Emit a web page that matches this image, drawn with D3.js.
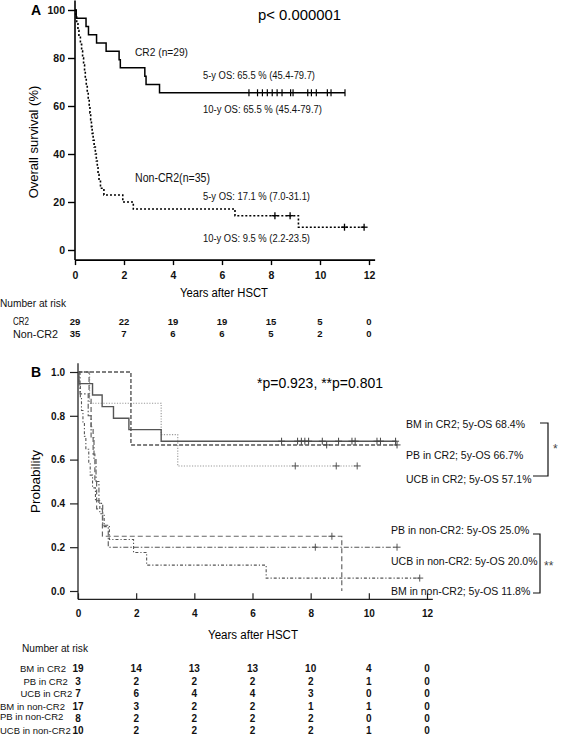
<!DOCTYPE html>
<html><head><meta charset="utf-8">
<script src="https://cdn.jsdelivr.net/npm/d3@7"></script>
<style>body{margin:0;background:#fff} svg{display:block}</style>
</head><body><svg id="c" width="567" height="737"></svg>
<script>
// ---------- Panel A data ----------
const ticksXA = [0, 2, 4, 6, 8, 10, 12];
const ticksYA = [0, 20, 40, 60, 80, 100];
const cr2Times = [0, 0.05, 0.45, 0.55, 0.88, 1.27, 1.8, 1.85, 2.85, 2.9, 3.45];
const cr2Surv  = [100, 96.6, 93.1, 89.7, 86.2, 82.8, 79.3, 75.9, 72.4, 69.0, 65.5];
const cr2End = 11.02;
const cr2Censor = [7.1, 7.45, 7.65, 7.85, 8.05, 8.25, 8.45, 8.8, 8.9, 9.5, 9.65, 9.85, 10.3, 10.45, 11.02];
const nonTimes = [0, 0.03, 0.07, 0.12, 0.16, 0.22, 0.27, 0.31, 0.35, 0.39, 0.42, 0.46, 0.5, 0.54, 0.58, 0.61, 0.64, 0.67, 0.7, 0.74, 0.78, 0.83, 0.87, 0.91, 0.94, 0.98, 1.04, 1.18, 1.95, 2.38, 6.53, 9.12];
const nonSurv  = [100, 97.1, 94.3, 91.4, 88.6, 85.7, 82.9, 80.0, 77.1, 74.3, 71.4, 68.6, 65.7, 62.9, 60.0, 57.1, 54.3, 51.4, 48.6, 45.7, 42.9, 40.0, 37.1, 34.3, 31.4, 28.6, 25.7, 22.9, 20.0, 17.1, 14.3, 9.5];
const nonEnd = 11.8;
const nonCensor = [8.16, 8.78, 11.0, 11.8];
const riskLabelsA = ["CR2", "Non-CR2"];
const riskCR2 = [29, 22, 19, 19, 15, 5, 0];
const riskNonCR2 = [35, 7, 6, 6, 5, 2, 0];

// ---------- Panel B data ----------
const ticksXB = [0, 2, 4, 6, 8, 10, 12];
const ticksYB = [0, 0.2, 0.4, 0.6, 0.8, 1.0];
const bmCR2Times = [0, 0.03, 0.5, 0.83, 1.22, 1.75, 2.86];
const bmCR2Surv  = [1, 0.947, 0.895, 0.842, 0.789, 0.737, 0.684];
const bmCR2End = 10.95;
const bmCR2Censor = [7.0, 7.55, 7.68, 7.8, 7.93, 8.4, 8.96, 9.42, 9.53, 10.28, 10.4, 10.92];
const pbCR2Times = [0, 1.82];
const pbCR2Surv  = [1, 0.667];
const pbCR2End = 10.97;
const pbCR2Censor = [8.55, 10.97];
const ucbCR2Times = [0, 0.4, 2.86, 3.43];
const ucbCR2Surv  = [1, 0.857, 0.714, 0.571];
const ucbCR2End = 9.6;
const ucbCR2Censor = [7.47, 8.88, 9.6];
const pbNonTimes = [0, 0.38, 0.45, 0.52, 0.58, 0.64, 0.84, 9.07];
const pbNonSurv  = [1, 0.875, 0.75, 0.625, 0.5, 0.375, 0.25, 0];
const pbNonEnd = 9.07;
const pbNonCensor = [8.73];
const ucbNonTimes = [0, 0.07, 0.35, 0.45, 0.55, 0.62, 0.72, 0.85, 1.04];
const ucbNonSurv  = [1, 0.9, 0.8, 0.7, 0.6, 0.5, 0.4, 0.3, 0.2];
const ucbNonEnd = 10.97;
const ucbNonCensor = [8.16, 10.97];
const bmNonTimes = [0, 0.03, 0.08, 0.12, 0.17, 0.22, 0.27, 0.37, 0.42, 0.5, 0.6, 0.75, 0.9, 1.08, 1.91, 2.36, 6.47];
const bmNonSurv  = [1, 0.941, 0.882, 0.824, 0.765, 0.706, 0.647, 0.588, 0.529, 0.471, 0.412, 0.353, 0.294, 0.235, 0.176, 0.118, 0.059];
const bmNonEnd = 11.75;
const bmNonCensor = [11.75];
const legendB = ["BM in CR2; 5y-OS 68.4%", "PB in CR2; 5y-OS 66.7%", "UCB in CR2; 5y-OS 57.1%",
                 "PB in non-CR2: 5y-OS 25.0%", "UCB in non-CR2: 5y-OS 20.0%", "BM in non-CR2; 5y-OS 11.8%"];
const riskLabelsB = ["BM in CR2", "PB in CR2", "UCB in CR2", "BM in non-CR2", "PB in non-CR2", "UCB in non-CR2"];
const riskB = [
  [19, 14, 13, 13, 10, 4, 0],
  [3, 2, 2, 2, 2, 1, 0],
  [7, 6, 4, 4, 3, 0, 0],
  [17, 3, 2, 2, 1, 1, 0],
  [8, 2, 2, 2, 2, 0, 0],
  [10, 2, 2, 2, 2, 1, 0]
];

// ---------- helpers ----------
const FONT = "'Liberation Sans', Arial, sans-serif";
const svg = d3.select('#c');
svg.append('rect').attr('width', 567).attr('height', 737).attr('fill', '#fff');

function stepAt(times, surv, t) {
  let v = surv[0];
  for (let i = 0; i < times.length; i++) if (times[i] <= t) v = surv[i];
  return v;
}
function txt(x, y, s, o = {}) {
  const t = svg.append('text').attr('x', x).attr('y', y).text(s)
    .attr('font-family', o.family || FONT).attr('font-size', o.size || 11)
    .attr('font-weight', o.weight || 'normal').attr('fill', o.fill || '#111')
    .attr('text-anchor', o.anchor || 'start');
  if (o.len) t.attr('textLength', o.len).attr('lengthAdjust', 'spacingAndGlyphs');
  return t;
}
function drawCurve(g, x, y, times, surv, end, style) {
  const pts = times.map((t, i) => [t, surv[i]]);
  pts.push([end, surv[surv.length - 1]]);
  g.append('path').datum(pts)
    .attr('d', d3.line().x(d => x(d[0])).y(d => y(d[1])).curve(d3.curveStepAfter))
    .attr('fill', 'none').attr('stroke', style.color).attr('stroke-width', style.width)
    .attr('stroke-dasharray', style.dash || null);
}
function drawCensor(g, x, y, times, surv, cens, style, h, w) {
  cens.forEach(c => {
    const cx = x(c), cy = y(stepAt(times, surv, c));
    g.append('line').attr('x1', cx).attr('x2', cx).attr('y1', cy - h).attr('y2', cy + h)
      .attr('stroke', style.color).attr('stroke-width', style.cw || 1.2);
    g.append('line').attr('x1', cx - w).attr('x2', cx + w).attr('y1', cy).attr('y2', cy)
      .attr('stroke', style.color).attr('stroke-width', style.cw || 1.2);
  });
}

// =================== PANEL A ===================
const xA = d3.scaleLinear().domain([0, 12]).range([75, 369]);
const yA = d3.scaleLinear().domain([0, 100]).range([250, 10]);
const baseA = yA(-4.2);
const gA = svg.append('g');

// axes
gA.append('line').attr('x1', xA(0)).attr('x2', xA(0)).attr('y1', yA(104)).attr('y2', baseA)
  .attr('stroke', '#000').attr('stroke-width', 1.6);
gA.append('line').attr('x1', xA(0)).attr('x2', xA(12.25)).attr('y1', baseA).attr('y2', baseA)
  .attr('stroke', '#000').attr('stroke-width', 1.6);
const ayA = gA.append('g').attr('transform', `translate(${xA(0)},0)`)
  .call(d3.axisLeft(yA).tickValues(ticksYA).tickSize(7).tickPadding(3).tickSizeOuter(0));
ayA.select('.domain').remove();
const axA = gA.append('g').attr('transform', `translate(0,${baseA})`)
  .call(d3.axisBottom(xA).tickValues(ticksXA).tickSize(5).tickPadding(6).tickSizeOuter(0));
axA.select('.domain').remove();
[ayA, axA].forEach(a => {
  a.selectAll('line').attr('stroke', '#000').attr('stroke-width', 1.4);
  a.selectAll('text').attr('font-family', FONT).attr('font-size', 10.5).attr('font-weight', 'bold').attr('fill', '#111');
});

// curves
drawCurve(gA, xA, yA, cr2Times, cr2Surv, cr2End, {color: '#000', width: 1.5});
drawCurve(gA, xA, yA, nonTimes, nonSurv, nonEnd, {color: '#000', width: 1.6, dash: '2,2'});
drawCensor(gA, xA, yA, cr2Times, cr2Surv, cr2Censor, {color: '#000', cw: 1.2}, 3.5, 0);
drawCensor(gA, xA, yA, nonTimes, nonSurv, nonCensor, {color: '#000', cw: 1.3}, 3.5, 3.5);

// texts
txt(31, 15, 'A', {size: 14, weight: 'bold', fill: '#000'});
txt(258, 20, 'p< 0.000001', {size: 14.5, len: 83, fill: '#000'});
txt(135, 56, 'CR2 (n=29)', {size: 11.5, len: 53});
txt(203, 79, '5-y OS: 65.5 % (45.4-79.7)', {size: 10, len: 112});
txt(203, 113, '10-y OS: 65.5 % (45.4-79.7)', {size: 10, len: 119});
txt(135, 182, 'Non-CR2(n=35)', {size: 12, len: 75});
txt(203, 200, '5-y OS: 17.1 % (7.0-31.1)', {size: 10, len: 107});
txt(203, 242, '10-y OS: 9.5 % (2.2-23.5)', {size: 10, len: 107});
txt(0, 0, 'Overall survival (%)', {size: 13, anchor: 'middle', fill: '#000'})
  .attr('transform', `translate(38,${yA(45)}) rotate(-90)`);
txt(224, 297, 'Years after HSCT', {size: 12, anchor: 'middle', len: 88, fill: '#000'});
txt(0, 307, 'Number at risk', {size: 10, len: 66});
txt(13, 325, riskLabelsA[0], {size: 10.5, len: 16});
txt(13, 337.5, riskLabelsA[1], {size: 11.5, len: 45});
[riskCR2, riskNonCR2].forEach((row, r) => {
  row.forEach((v, i) => txt(xA(ticksXA[i]), r === 0 ? 325 : 336.5, v, {size: 9.5, weight: 'bold', anchor: 'middle'}));
});

// =================== PANEL B ===================
const xB = d3.scaleLinear().domain([0, 12]).range([78, 427]);
const yB = d3.scaleLinear().domain([0, 1]).range([591, 372]);
const baseB = yB(-0.038);
const gB = svg.append('g');
gB.append('line').attr('x1', xB(0)).attr('x2', xB(0)).attr('y1', yB(1.04)).attr('y2', baseB)
  .attr('stroke', '#222').attr('stroke-width', 1.3);
gB.append('line').attr('x1', xB(0)).attr('x2', xB(12.2)).attr('y1', baseB).attr('y2', baseB)
  .attr('stroke', '#222').attr('stroke-width', 1.3);
const ayB = gB.append('g').attr('transform', `translate(${xB(0)},0)`)
  .call(d3.axisLeft(yB).tickValues(ticksYB).tickFormat(d3.format('.1f')).tickSize(8).tickPadding(5).tickSizeOuter(0));
ayB.select('.domain').remove();
const axB = gB.append('g').attr('transform', `translate(0,${baseB})`)
  .call(d3.axisBottom(xB).tickValues(ticksXB).tickSize(-6).tickPadding(11).tickSizeOuter(0));
axB.select('.domain').remove();
[ayB, axB].forEach(a => {
  a.selectAll('line').attr('stroke', '#222').attr('stroke-width', 1.2);
  a.selectAll('text').attr('font-family', FONT).attr('font-size', 10).attr('font-weight', 'bold').attr('fill', '#111');
});

const sBM  = {color: '#555', width: 1.4};
const sPB  = {color: '#555', width: 1.4, dash: '4,2'};
const sUCB = {color: '#999', width: 1.1, dash: '1.2,1.5'};
const sPBn = {color: '#666', width: 1.2, dash: '5,3'};
const sUCBn = {color: '#555', width: 1.1, dash: '5,2,1.5,2'};
const sBMn = {color: '#555', width: 1.1, dash: '3,2,1.2,2'};
drawCurve(gB, xB, yB, ucbCR2Times, ucbCR2Surv, ucbCR2End, sUCB);
drawCurve(gB, xB, yB, bmNonTimes, bmNonSurv, bmNonEnd, sBMn);
drawCurve(gB, xB, yB, ucbNonTimes, ucbNonSurv, ucbNonEnd, sUCBn);
drawCurve(gB, xB, yB, pbNonTimes, pbNonSurv, pbNonEnd, sPBn);
drawCurve(gB, xB, yB, pbCR2Times, pbCR2Surv, pbCR2End, sPB);
drawCurve(gB, xB, yB, bmCR2Times, bmCR2Surv, bmCR2End, sBM);
drawCensor(gB, xB, yB, bmCR2Times, bmCR2Surv, bmCR2Censor, {color: '#444', cw: 1}, 3.5, 3.5);
drawCensor(gB, xB, yB, pbCR2Times, pbCR2Surv, pbCR2Censor, {color: '#444', cw: 1}, 3.5, 3.5);
drawCensor(gB, xB, yB, ucbCR2Times, ucbCR2Surv, ucbCR2Censor, {color: '#555', cw: 1}, 3.5, 3.5);
drawCensor(gB, xB, yB, pbNonTimes, pbNonSurv, pbNonCensor, {color: '#555', cw: 1}, 3.5, 3.5);
drawCensor(gB, xB, yB, ucbNonTimes, ucbNonSurv, ucbNonCensor, {color: '#555', cw: 1}, 3.5, 3.5);
drawCensor(gB, xB, yB, bmNonTimes, bmNonSurv, bmNonCensor, {color: '#555', cw: 1}, 3.5, 3.5);

txt(31, 377, 'B', {size: 14, weight: 'bold', fill: '#000'});
txt(257, 388, '*p=0.923, **p=0.801', {size: 14.5, len: 126, fill: '#000'});
const legY = [427.5, 459, 483, 534, 565, 595];
legendB.forEach((s, i) => txt(i < 3 ? 406 : 391, legY[i], s, {size: 10.5, fill: '#111'}));
// brackets
gB.append('path').attr('d', `M540,423 H548 V476 H533`).attr('fill', 'none').attr('stroke', '#111').attr('stroke-width', 1.2);
gB.append('path').attr('d', `M533,534 H540 V593 H533`).attr('fill', 'none').attr('stroke', '#111').attr('stroke-width', 1.2);
txt(553, 453, '*', {size: 12, fill: '#444'});
txt(544, 570, '**', {size: 12, fill: '#444'});

txt(0, 0, 'Probability', {size: 13.5, anchor: 'middle', fill: '#000'})
  .attr('transform', `translate(40,${yB(0.5)}) rotate(-90)`);
txt(253, 639, 'Years after HSCT', {size: 12, anchor: 'middle', len: 90, fill: '#000'});
txt(22, 652, 'Number at risk', {size: 10, len: 66});
const rowY = [672, 684.5, 697, 710, 722, 734];
const labX = [20, 23.5, 20.5, 0, 0, 0];
riskLabelsB.forEach((s, i) => txt(labX[i], rowY[i] - (i === 4 ? 2 : 0), s, {size: 9.5}));
riskB.forEach((row, r) => row.forEach((v, i) =>
  txt(xB(ticksXB[i]), rowY[r], v, {size: 10, weight: 'bold', anchor: 'middle'})));
</script></body></html>
